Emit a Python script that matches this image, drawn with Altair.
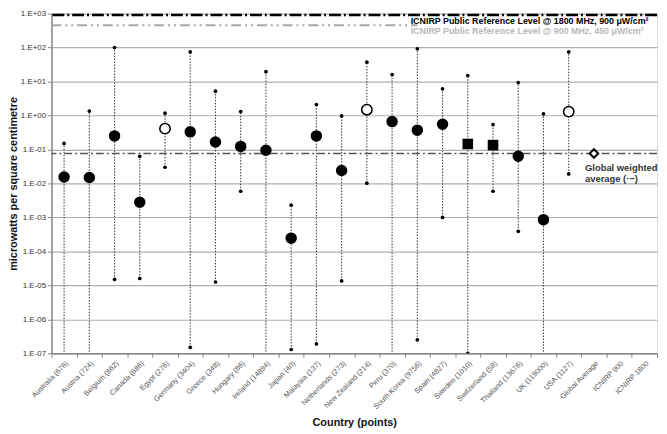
import altair as alt
import pandas as pd
import numpy as np

countries = ["Australia (676)", "Austria (724)", "Belgium (862)", "Canada (686)", "Egypt (276)",
             "Germany (3404)", "Greece (348)", "Hungary (86)", "Ireland (14894)", "Japan (40)",
             "Malaysia (137)", "Netherlands (273)", "New Zealand (214)", "Peru (370)",
             "South Korea (9756)", "Spain (4827)", "Sweden (1010)", "Switzerland (58)",
             "Thailand (13676)", "UK (119000)", "USA (1127)", "Global Average", "ICNIRP 900", "ICNIRP 1800"]

means = [0.0155, 0.015, 0.25, 0.0028, 0.41, 0.33, 0.165, 0.123, 0.095, 0.000245,
         0.25, 0.024, 1.48, 0.66, 0.37, 0.55, 0.145, 0.134, 0.063, 0.00086, 1.3, 0.076]
maxs = [0.15, 1.35, 100, 0.063, 1.17, 74, 5.2, 1.3, 19.5, 0.0023,
        2.1, 0.97, 37, 16, 92, 6.1, 15, 0.54, 9.3, 1.12, 74, None]
# values below 1e-7 run off the bottom of the axis
mins = [1e-8, 1e-8, 1.5e-5, 1.6e-5, 0.03, 1.5e-7, 1.26e-5, 0.0059, 1e-8, 1.3e-7,
        1.9e-7, 1.35e-5, 0.0102, 1e-8, 2.5e-7, 0.001, 1e-7, 0.0059, 0.00039, 1e-8, 0.019, None]
markers = ["filled", "filled", "filled", "filled", "open", "filled", "filled", "filled", "filled", "filled",
           "filled", "filled", "open", "filled", "filled", "filled", "square", "square", "filled", "filled",
           "open", "diamond"]

global_avg = 0.076
icnirp_1800 = 900
icnirp_900 = 450
label_1800 = "ICNIRP Public Reference Level @ 1800 MHz, 900 μW/cm²"
label_900 = "ICNIRP Public Reference Level @ 900 MHz, 450 μW/cm²"
label_avg = "Global weighted\naverage (·−)"

df = pd.DataFrame({
    "country": countries[:len(means)],
    "mean": means,
    "max": [np.nan if v is None else v for v in maxs],
    "min": [np.nan if v is None else v for v in mins],
    "marker": markers,
})

xenc = alt.X("country:N", sort=countries,
             scale=alt.Scale(domain=countries, paddingInner=0, paddingOuter=0),
             axis=alt.Axis(title="Country (points)", labelAngle=-45, labelFontSize=7.5,
                           labelColor="#555", labelFont="Liberation Sans", tickBand="extent",
                           tickSize=4, tickColor="#888", domainColor="#888", domainWidth=1.5,
                           labelPadding=2, titleFont="Liberation Sans", titleFontSize=11,
                           titleFontWeight="bold", titleColor="#111", titlePadding=6, grid=False))

yscale = alt.Scale(type="log", domain=[1e-7, 1e3], nice=False)
yaxis = alt.Axis(title="microwatts per square centimetre",
                 values=[10.0 ** e for e in range(-7, 4)],
                 labelExpr="'1.E' + (datum.value >= 1 ? '+' : '-') + format(abs(round(log(datum.value)/LN10)), '02d')",
                 labelFontSize=8, labelColor="#333", labelFont="Liberation Sans",
                 tickSize=4, tickColor="#888", domainColor="#888", domainWidth=1.5,
                 grid=True, gridColor="#b0b0b0", gridWidth=1.2,
                 titleFont="Liberation Sans", titleFontSize=11, titleFontWeight="bold",
                 titleColor="#111", titlePadding=2)

base = alt.Chart(df)

rules = base.mark_rule(color="#444", strokeWidth=1.1, strokeDash=[1.5, 1.5], clip=True).encode(
    x=xenc, y=alt.Y("min:Q", scale=yscale, axis=yaxis), y2="max:Q")

max_dots = base.mark_circle(size=14, color="black", opacity=1, clip=True).encode(
    x="country:N", y=alt.Y("max:Q", scale=yscale))
min_dots = base.mark_circle(size=14, color="black", opacity=1, clip=True).encode(
    x="country:N", y=alt.Y("min:Q", scale=yscale))

filled = base.transform_filter("datum.marker == 'filled'").mark_circle(
    size=135, color="black", opacity=1).encode(x="country:N", y=alt.Y("mean:Q", scale=yscale))
open_c = base.transform_filter("datum.marker == 'open'").mark_point(
    shape="circle", size=110, filled=True, fill="white", stroke="black", strokeWidth=1.6, opacity=1).encode(
    x="country:N", y=alt.Y("mean:Q", scale=yscale))
squares = base.transform_filter("datum.marker == 'square'").mark_square(
    size=115, color="black", opacity=1).encode(x="country:N", y=alt.Y("mean:Q", scale=yscale))
diamond = base.transform_filter("datum.marker == 'diamond'").mark_point(
    shape="diamond", size=75, filled=True, fill="white", stroke="black", strokeWidth=2, opacity=1).encode(
    x="country:N", y=alt.Y("mean:Q", scale=yscale))

ref = pd.DataFrame({
    "y": [global_avg, icnirp_1800, icnirp_900],
    "name": ["avg", "1800", "900"],
})

avg_line = alt.Chart(ref).transform_filter("datum.name == 'avg'").mark_rule(
    color="#555", strokeWidth=1.5, strokeDash=[8, 3, 2, 3]).encode(y=alt.Y("y:Q", scale=yscale))
line_1800 = alt.Chart(ref).transform_filter("datum.name == '1800'").mark_rule(
    color="black", strokeWidth=2.5, strokeDash=[12, 3, 2, 3]).encode(y=alt.Y("y:Q", scale=yscale))

gray_df = pd.DataFrame({"x0": [countries[0]], "x1": [countries[14]], "y": [icnirp_900]})
line_900 = alt.Chart(gray_df).mark_rule(
    color="#a8a8a8", strokeWidth=2, strokeDash=[10, 4, 2, 4, 2, 4]).encode(
    x=alt.X("x0:N", bandPosition=0), x2="x1:N", y=alt.Y("y:Q", scale=yscale))

txt_df = pd.DataFrame({
    "x": [countries[14], countries[14], countries[21]],
    "y": [icnirp_1800, icnirp_900, global_avg],
    "t": [label_1800, label_900, label_avg],
    "kind": ["1800", "900", "avg"],
})
txt_1800 = alt.Chart(txt_df).transform_filter("datum.kind == '1800'").mark_text(
    align="left", baseline="middle", dx=6, dy=6, fontSize=9, fontWeight="bold",
    font="Liberation Sans", color="black").encode(
    x=alt.X("x:N", bandPosition=0), y=alt.Y("y:Q", scale=yscale), text="t:N")
txt_900 = alt.Chart(txt_df).transform_filter("datum.kind == '900'").mark_text(
    align="left", baseline="middle", dx=6, dy=6, fontSize=9, fontWeight="bold",
    font="Liberation Sans", color="#b8b8b8").encode(
    x=alt.X("x:N", bandPosition=0), y=alt.Y("y:Q", scale=yscale), text="t:N")
txt_avg = alt.Chart(txt_df).transform_filter("datum.kind == 'avg'").mark_text(
    align="left", baseline="top", dx=-9, dy=10, fontSize=9.5, fontWeight="bold", lineHeight=11,
    lineBreak="\n", font="Liberation Sans", color="#333").encode(
    x=alt.X("x:N"), y=alt.Y("y:Q", scale=yscale), text="t:N")

chart = alt.layer(
    rules, avg_line, line_1800, line_900, max_dots, min_dots, filled, open_c, squares, diamond,
    txt_1800, txt_900, txt_avg
).properties(
    width=613, height=344,
    autosize=alt.AutoSizeParams(type="none"),
    padding={"left": 44, "top": 3, "right": 2, "bottom": 75},
).configure_view(stroke=None).configure(background="white")

chart.save("out.html", embed_options={"renderer": "svg", "actions": False})
